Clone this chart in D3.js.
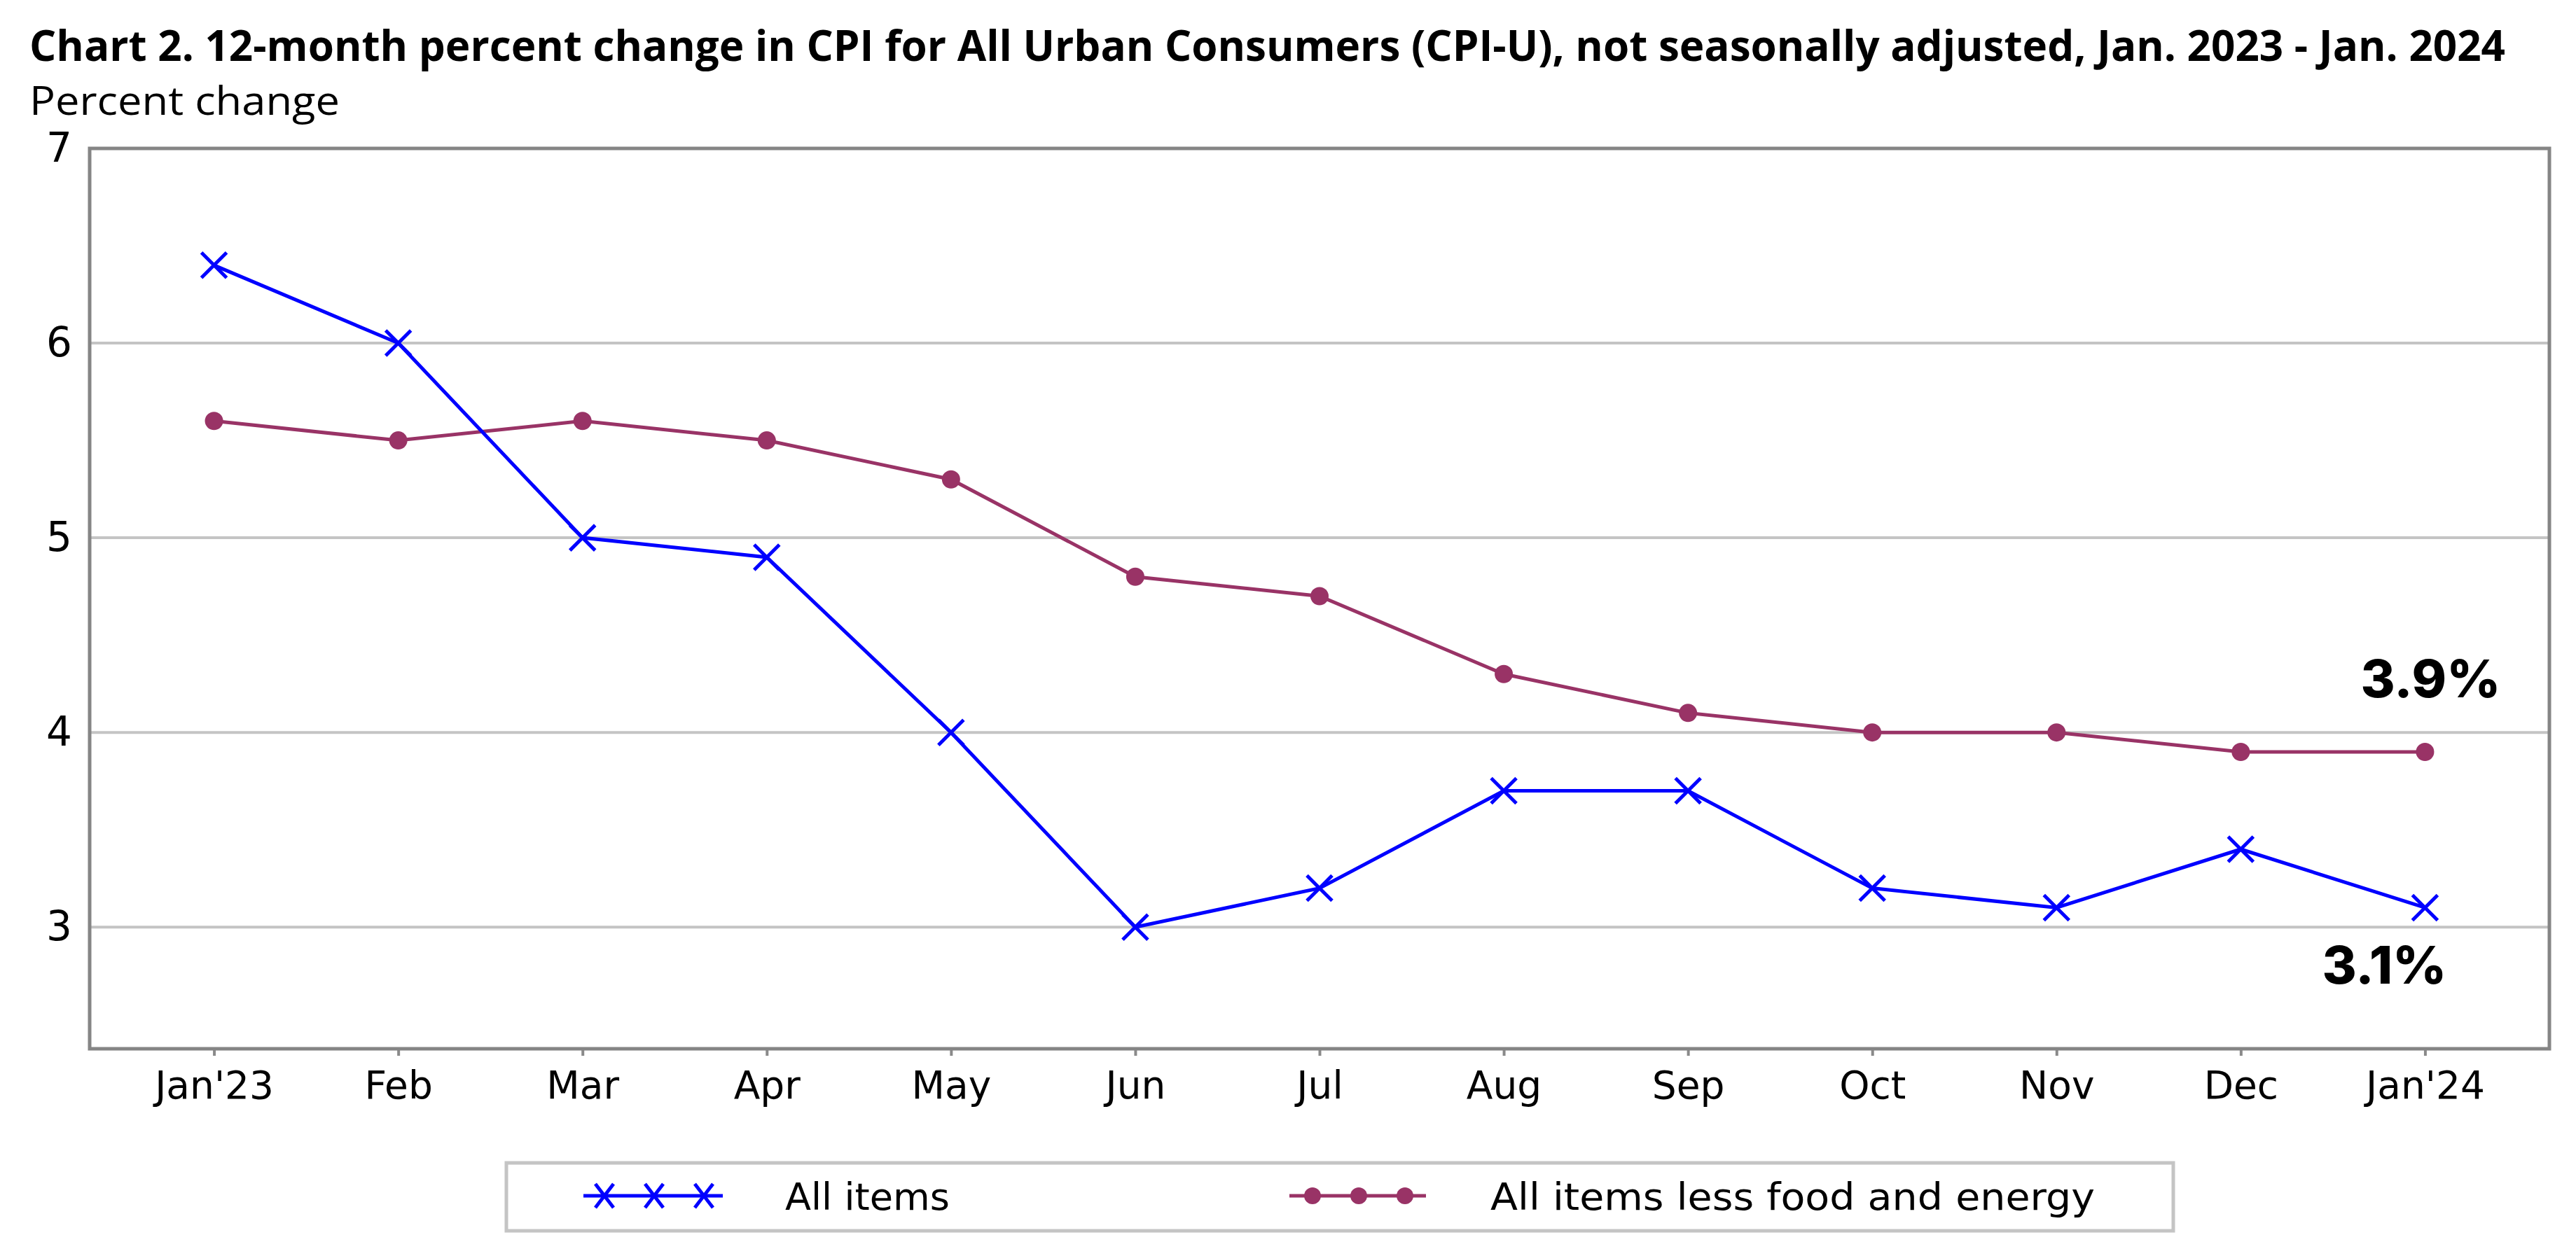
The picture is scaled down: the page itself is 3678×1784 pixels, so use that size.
<!DOCTYPE html>
<html>
<head>
<meta charset="utf-8">
<script src="https://cdn.jsdelivr.net/npm/d3@7"></script>
<style>
  html, body { margin: 0; padding: 0; background: #ffffff; }
  svg { display: block; }
</style>
</head>
<body>
<script>
// ---- data ----
const months = ["Jan'23", "Feb", "Mar", "Apr", "May", "Jun", "Jul", "Aug", "Sep", "Oct", "Nov", "Dec", "Jan'24"];
const allItems = [6.4, 6.0, 5.0, 4.9, 4.0, 3.0, 3.2, 3.7, 3.7, 3.2, 3.1, 3.4, 3.1];
const coreItems = [5.6, 5.5, 5.6, 5.5, 5.3, 4.8, 4.7, 4.3, 4.1, 4.0, 4.0, 3.9, 3.9];
const yTicks = [3, 4, 5, 6, 7];
const seriesNames = ["All items", "All items less food and energy"];
const titleText = "Chart 2. 12-month percent change in CPI for All Urban Consumers (CPI-U), not seasonally adjusted, Jan. 2023 - Jan. 2024";
const yLabel = "Percent change";
const endLabels = ["3.9%", "3.1%"];

// ---- layout ----
const W = 3678, H = 1784;
const plot = { left: 128, right: 3640, top: 212, bottom: 1498 };
const BLUE = "#0000ff", MAROON = "#993366";

const svg = d3.select("body").append("svg").attr("width", W).attr("height", H);
svg.append("rect").attr("width", W).attr("height", H).attr("fill", "#fff");

const x = d3.scalePoint().domain(months).range([plot.left, plot.right]).padding(0.675);
const y = d3.scaleLinear().domain([2.375, 7]).range([plot.bottom, plot.top]);

// title
svg.append("text").attr("x", 42).attr("y", 87)
  .attr("font-family", "'Open Sans', 'Noto Sans', sans-serif").attr("font-weight", 700)
  .attr("font-size", 60).attr("textLength", 3535).attr("lengthAdjust", "spacingAndGlyphs")
  .attr("fill", "#000").text(titleText);
svg.append("text").attr("x", 42).attr("y", 164)
  .attr("font-family", "'Open Sans', 'Noto Sans', sans-serif")
  .attr("font-size", 56).attr("textLength", 443).attr("lengthAdjust", "spacingAndGlyphs")
  .attr("fill", "#000").text(yLabel);

// gridlines
const grid = svg.append("g");
grid.selectAll("line").data(yTicks.filter(d => d < 7)).join("line")
  .attr("x1", plot.left).attr("x2", plot.right)
  .attr("y1", d => y(d)).attr("y2", d => y(d))
  .attr("stroke", "#c4c4c4").attr("stroke-width", 4);

// y axis labels
const yAxis = svg.append("g").attr("transform", `translate(${plot.left},0)`)
  .call(d3.axisLeft(y).tickValues(yTicks).tickSize(0).tickPadding(25).tickFormat(d3.format("d")));
yAxis.select(".domain").remove();
yAxis.selectAll("text").attr("font-family", "'DejaVu Sans', sans-serif").attr("font-size", 58).attr("fill", "#000");

// x axis
const xAxis = svg.append("g").attr("transform", `translate(0,${plot.bottom})`)
  .call(d3.axisBottom(x).tickSize(10).tickPadding(22));
xAxis.select(".domain").remove();
xAxis.selectAll(".tick line").attr("stroke", "#8a8a8a").attr("stroke-width", 4);
xAxis.selectAll("text").attr("font-family", "'DejaVu Sans', sans-serif").attr("font-size", 55).attr("fill", "#000");

// frame
svg.append("rect").attr("x", plot.left).attr("y", plot.top)
  .attr("width", plot.right - plot.left).attr("height", plot.bottom - plot.top)
  .attr("fill", "none").attr("stroke", "#858585").attr("stroke-width", 5);

const line = d3.line().x((d, i) => x(months[i])).y(d => y(d));

// core series
svg.append("path").datum(coreItems).attr("d", line)
  .attr("fill", "none").attr("stroke", MAROON).attr("stroke-width", 5);
svg.append("g").selectAll("circle").data(coreItems).join("circle")
  .attr("cx", (d, i) => x(months[i])).attr("cy", d => y(d)).attr("r", 13).attr("fill", MAROON);

// all items series
svg.append("path").datum(allItems).attr("d", line)
  .attr("fill", "none").attr("stroke", BLUE).attr("stroke-width", 5);
const xMark = (g, cx, cy, sx, sy) => {
  g.append("path").attr("d", `M${cx - sx},${cy - sy}L${cx + sx},${cy + sy}M${cx - sx},${cy + sy}L${cx + sx},${cy - sy}`)
    .attr("stroke", BLUE).attr("stroke-width", 5).attr("fill", "none");
};
const marks = svg.append("g");
allItems.forEach((d, i) => xMark(marks, x(months[i]), y(d), 18, 18));

// end labels
const last = months.length - 1;
svg.append("text").attr("x", x(months[last]) - 92).attr("y", y(coreItems[last]) - 78)
  .attr("font-family", "Inter, 'Open Sans', sans-serif").attr("font-weight", 800)
  .attr("font-size", 74).attr("textLength", 200).attr("lengthAdjust", "spacingAndGlyphs")
  .attr("fill", "#000").text(endLabels[0]);
svg.append("text").attr("x", x(months[last]) - 147).attr("y", y(allItems[last]) + 109)
  .attr("font-family", "Inter, 'Open Sans', sans-serif").attr("font-weight", 800)
  .attr("font-size", 74).attr("textLength", 178).attr("lengthAdjust", "spacingAndGlyphs")
  .attr("fill", "#000").text(endLabels[1]);

// legend
const lg = svg.append("g");
lg.append("rect").attr("x", 723).attr("y", 1661).attr("width", 3103 - 723).attr("height", 1758 - 1661)
  .attr("fill", "#fff").attr("stroke", "#c4c4c4").attr("stroke-width", 5);
const ly = 1708;
lg.append("line").attr("x1", 833).attr("x2", 1032).attr("y1", ly).attr("y2", ly)
  .attr("stroke", BLUE).attr("stroke-width", 5);
[863, 934, 1005].forEach(cx => xMark(lg, cx, ly, 13, 17));
lg.append("line").attr("x1", 1841).attr("x2", 2036).attr("y1", ly).attr("y2", ly)
  .attr("stroke", MAROON).attr("stroke-width", 5);
lg.selectAll("circle").data([1874, 1940, 2006]).join("circle")
  .attr("cx", d => d).attr("cy", ly).attr("r", 12).attr("fill", MAROON);
lg.append("text").attr("x", 1121).attr("y", 1728)
  .attr("font-family", "'DejaVu Sans', sans-serif").attr("font-size", 54)
  .attr("textLength", 235).attr("lengthAdjust", "spacingAndGlyphs").attr("fill", "#000").text(seriesNames[0]);
lg.append("text").attr("x", 2128).attr("y", 1728)
  .attr("font-family", "'DejaVu Sans', sans-serif").attr("font-size", 54)
  .attr("textLength", 863).attr("lengthAdjust", "spacingAndGlyphs").attr("fill", "#000").text(seriesNames[1]);
</script>
</body>
</html>
